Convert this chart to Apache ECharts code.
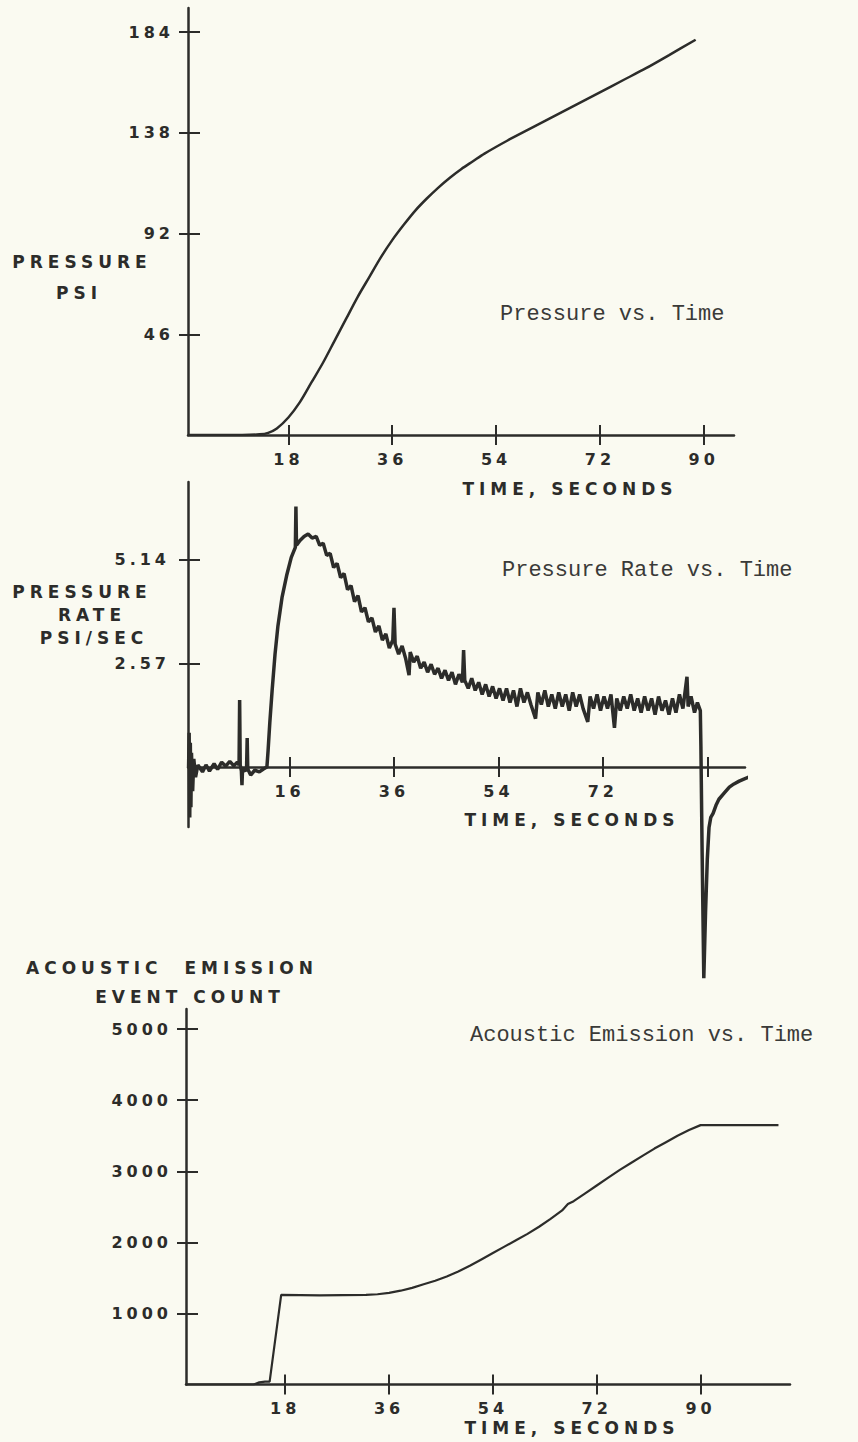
<!DOCTYPE html>
<html>
<head>
<meta charset="utf-8">
<script src="https://cdn.jsdelivr.net/npm/echarts@6/dist/echarts.min.js"></script>
<style>
  html, body { margin: 0; padding: 0; background: #fafaf1; }
  #chart { width: 858px; height: 1442px; }
  /* hand-lettered axis text is widely spaced; typewriter captions are not */
  #chart text { letter-spacing: 4px; }
  #chart text[style*="17px"] { letter-spacing: 5px; }
  #chart text[style*="Mono"] { letter-spacing: 0; }
</style>
</head>
<body>
<div id="chart"></div>
<script>
// --- Pressure vs. Time (seconds, psi) ---
const pressureTime = [0.6, 10, 13, 14.5, 16, 18, 20, 22, 24, 26,
    28, 30, 32, 34, 36, 38, 40, 42, 44, 46,
    48, 50, 52, 56, 60, 64, 68, 72, 76, 80,
    84, 88.6];
const pressureValue = [0, 0, 0.3, 1, 3, 8, 15, 24, 33, 43,
    53, 63, 72, 81, 89, 96, 102.5, 108, 113, 117.5,
    121.5, 125, 128.5, 134.5, 140, 145.5, 151, 156.5, 162, 167.5,
    173.5, 180.5];
const pressureTicks = [46, 92, 138, 184];

// --- Pressure Rate vs. Time (seconds, psi/sec) ---
const rateTime = [0.6, 0.7, 0.8, 0.9, 1.0, 1.1, 1.3, 1.5, 1.8, 2.2,
    3.0, 3.6, 4.2, 5.0, 5.6, 6.3, 7.0, 7.7, 8.4, 9.0,
    9.3, 9.4, 9.5, 9.7, 9.8, 9.9, 10.4, 10.6, 10.7, 10.8,
    11.3, 12.0, 12.8, 13.5, 14.1, 14.3, 14.6, 15.0, 15.5, 16.0,
    16.7, 17.5, 18.3, 19.0, 19.1, 19.2, 19.8, 20.5, 21.2, 21.9,
    22.6, 23.2, 23.8, 24.4, 25.0, 25.6, 26.2, 26.8, 27.4, 28.0,
    28.6, 29.2, 29.8, 30.4, 31.0, 31.6, 32.2, 32.8, 33.4, 34.0,
    34.6, 35.2, 35.8, 36.0, 36.2, 36.8, 37.4, 38.0, 38.6, 38.8,
    39.4, 40.0, 40.6, 41.2, 41.8, 42.4, 43.0, 43.6, 44.2, 44.8,
    45.4, 46.0, 46.6, 47.2, 47.8, 48.0, 48.2, 48.8, 49.4, 50.0,
    50.6, 51.2, 51.8, 52.4, 53.0, 53.6, 54.2, 54.8, 55.4, 56.0,
    56.6, 57.2, 57.8, 58.4, 59.0, 59.6, 60.4, 60.8, 61.4, 62.0,
    62.6, 63.2, 63.8, 64.4, 65.0, 65.6, 66.2, 66.8, 67.4, 68.0,
    68.6, 69.4, 69.8, 70.4, 71.0, 71.6, 72.2, 72.8, 73.4, 74.0,
    74.4, 75.0, 75.6, 76.2, 76.8, 77.4, 78.0, 78.6, 79.2, 79.8,
    80.4, 81.0, 81.6, 82.2, 82.8, 83.4, 84.0, 84.6, 85.2, 85.8,
    86.5, 86.7, 87.2, 87.8, 88.3, 88.8, 88.9, 89.1, 89.4, 89.7,
    90.0, 90.3, 90.6, 91.0, 91.5, 92.0, 92.9, 93.8, 94.6, 95.5,
    96.3, 97.2];
const rateValue = [0, 0.85, -1.25, 0.6, -1.0, 0.35, -0.6, 0.2, -0.25, 0.05,
    -0.12, 0.05, -0.1, 0.08, -0.06, 0.12, 0.02, 0.14, 0.03, 0.12,
    0.05, 1.66, 0.05, -0.1, -0.45, -0.05, -0.1, 0, 0.72, -0.05,
    -0.2, -0.08, -0.12, -0.05, 0, 0.4, 1.1, 1.9, 2.8, 3.5,
    4.2, 4.75, 5.2, 5.45, 6.46, 5.5, 5.62, 5.72, 5.78, 5.68,
    5.72, 5.5, 5.55, 5.25, 5.3, 4.95, 5.05, 4.7, 4.8, 4.4,
    4.5, 4.1, 4.25, 3.85, 3.95, 3.6, 3.7, 3.35, 3.5, 3.15,
    3.3, 2.95, 3.15, 3.95, 3.05, 2.8, 3.0, 2.7, 2.28, 2.85,
    2.6, 2.75, 2.45, 2.6, 2.35, 2.55, 2.3, 2.45, 2.2, 2.4,
    2.15, 2.35, 2.05, 2.3, 2.1, 2.9, 2.15, 1.95, 2.2, 1.9,
    2.1, 1.8, 2.05, 1.75, 2.0, 1.7, 1.95, 1.65, 1.95, 1.6,
    1.9, 1.5, 1.95, 1.6, 1.85, 1.55, 1.2, 1.85, 1.55, 1.9,
    1.5, 1.8, 1.45, 1.85, 1.5, 1.8, 1.4, 1.85, 1.5, 1.8,
    1.45, 1.12, 1.75, 1.45, 1.8, 1.4, 1.75, 1.45, 1.8, 0.97,
    1.7, 1.4, 1.75, 1.45, 1.8, 1.4, 1.7, 1.35, 1.75, 1.4,
    1.7, 1.3, 1.75, 1.4, 1.65, 1.3, 1.7, 1.35, 1.8, 1.45,
    2.24, 1.5, 1.75, 1.35, 1.6, 1.4, 0.5, -2.0, -5.24, -3.6,
    -2.3, -1.5, -1.25, -1.15, -0.95, -0.8, -0.65, -0.5, -0.42, -0.35,
    -0.3, -0.25];
const rateTicks = [2.57, 5.14];
const rateTimeLabelAt = [18, 36, 54, 72];
const rateTimeLabelText = ['16', '36', '54', '72'];

// --- Acoustic Emission vs. Time (seconds, event count) ---
const aeTime = [0.8, 12.5, 13.5, 14.5, 15.3, 17.3, 24, 32, 34, 36,
    38, 40, 42, 44, 46, 48, 50, 52, 54, 56,
    58, 60, 62, 64, 66, 67, 68, 70, 72, 74,
    76, 78, 80, 82, 84, 86, 88, 90, 103.5];
const aeCount = [0, 0, 30, 40, 40, 1260, 1255, 1260, 1270, 1290,
    1320, 1360, 1410, 1460, 1520, 1590, 1670, 1760, 1850, 1940,
    2030, 2120, 2220, 2330, 2450, 2540, 2580, 2690, 2800, 2910,
    3020, 3120, 3220, 3320, 3410, 3500, 3580, 3650, 3650];
const aeTicks = [1000, 2000, 3000, 4000, 5000];

const timeTicks = [18, 36, 54, 72, 90];

const INK = '#2c2c2a';
const LETTER = { fontFamily: 'DejaVu Sans', fontWeight: 'bold', fontSize: 16, color: INK };
const TYPED = { fontFamily: 'Liberation Mono', fontSize: 22, fill: '#3a3a38' };

const zip = (xs, ys) => xs.map((x, i) => [x, ys[i]]);

// each axis is doubled: the second one draws the other half of the crossing tick
function xAxisPair(grid, min, max, labelAt, fmt) {
    const base = { type: 'value', gridIndex: grid, min: min, max: max, position: 'bottom', splitLine: { show: false } };
    return [
        Object.assign({}, base, {
            axisLine: { show: true, lineStyle: { color: INK, width: 2.5 } },
            axisTick: { show: true, length: 10, customValues: timeTicks, lineStyle: { color: INK, width: 2 } },
            axisLabel: Object.assign({ show: true, margin: 16, customValues: labelAt, formatter: fmt }, LETTER)
        }),
        Object.assign({}, base, {
            axisLine: { show: false },
            axisTick: { show: true, inside: true, length: 10, customValues: timeTicks, lineStyle: { color: INK, width: 2 } },
            axisLabel: { show: false }
        })
    ];
}

function yAxisPair(grid, min, max, ticks, margin, fmt) {
    const base = { type: 'value', gridIndex: grid, min: min, max: max, position: 'left', splitLine: { show: false } };
    return [
        Object.assign({}, base, {
            axisLine: { show: true, onZero: false, lineStyle: { color: INK, width: 2.5 } },
            axisTick: { show: true, length: 9, customValues: ticks, lineStyle: { color: INK, width: 2 } },
            axisLabel: Object.assign({ show: true, margin: margin, customValues: ticks, formatter: fmt }, LETTER)
        }),
        Object.assign({}, base, {
            axisLine: { show: false, onZero: false },
            axisTick: { show: true, inside: true, length: 12, customValues: ticks, lineStyle: { color: INK, width: 2 } },
            axisLabel: { show: false }
        })
    ];
}

function lettering(text, x, y) {
    return { type: 'text', x: x, y: y, silent: true,
        style: { text: text, fill: INK, fontFamily: 'DejaVu Sans', fontWeight: 'bold', fontSize: 17,
                 align: 'center', verticalAlign: 'middle' } };
}
function typed(text, x, y) {
    return { type: 'text', x: x, y: y, silent: true,
        style: Object.assign({ text: text, align: 'left', verticalAlign: 'middle' }, TYPED) };
}

const chart = echarts.init(document.getElementById('chart'), null, { renderer: 'svg' });

const option = {
    animation: false,
    backgroundColor: '#fafaf1',
    grid: [
        { left: 188, top: 8, width: 546, height: 427 },
        { left: 188, top: 482, width: 557, height: 285 },
        { left: 186, top: 1009, width: 604, height: 375.5 },
        // lower stub of the rate chart's vertical axis, below zero
        { left: 188, top: 767, width: 557, height: 60 }
    ],
    xAxis: [].concat(
        xAxisPair(0, 0.6, 95.25, timeTicks, v => String(v)),
        xAxisPair(1, 0.5, 96.5, rateTimeLabelAt, v => rateTimeLabelText[rateTimeLabelAt.indexOf(v)]),
        xAxisPair(2, 0.8, 105.5, timeTicks, v => String(v)),
        [{ type: 'value', gridIndex: 3, min: 0.5, max: 96.5, show: false }]
    ),
    yAxis: [].concat(
        yAxisPair(0, 0, 195, pressureTicks, 14, v => String(v)),
        yAxisPair(1, 0, 7.07, rateTicks, 18, v => v.toFixed(2)),
        yAxisPair(2, 0, 5284, aeTicks, 14, v => String(v)),
        [{ type: 'value', gridIndex: 3, min: -1.49, max: 0, position: 'left',
           axisLine: { show: true, onZero: false, lineStyle: { color: INK, width: 2.5 } },
           axisTick: { show: false }, axisLabel: { show: false }, splitLine: { show: false } }]
    ),
    series: [
        {
            name: 'Pressure', type: 'line', xAxisIndex: 0, yAxisIndex: 0,
            data: zip(pressureTime, pressureValue), showSymbol: false,
            smooth: 0.3,
            lineStyle: { color: INK, width: 2.5 }
        },
        {
            name: 'Pressure Rate', type: 'line', xAxisIndex: 2, yAxisIndex: 2,
            data: zip(rateTime, rateValue), showSymbol: false, clip: false,
            lineStyle: { color: INK, width: 3.5 }
        },
        {
            name: 'Acoustic Emission', type: 'line', xAxisIndex: 4, yAxisIndex: 4,
            data: zip(aeTime, aeCount), showSymbol: false,
            lineStyle: { color: INK, width: 2.2 }
        }
    ],
    graphic: [
        lettering('PRESSURE', 82, 262),
        lettering('PSI', 79, 293),
        lettering('TIME, SECONDS', 570, 489),
        typed('Pressure vs. Time', 500, 314),

        lettering('PRESSURE', 82, 592),
        lettering('RATE', 92, 615),
        lettering('PSI/SEC', 94, 638),
        lettering('TIME, SECONDS', 572, 820),
        typed('Pressure Rate vs. Time', 502, 570),

        lettering('ACOUSTIC  EMISSION', 172, 968),
        lettering('EVENT COUNT', 190, 997),
        lettering('TIME, SECONDS', 572, 1428),
        typed('Acoustic Emission vs. Time', 470, 1035)
    ]
};

chart.setOption(option);
</script>
</body>
</html>
